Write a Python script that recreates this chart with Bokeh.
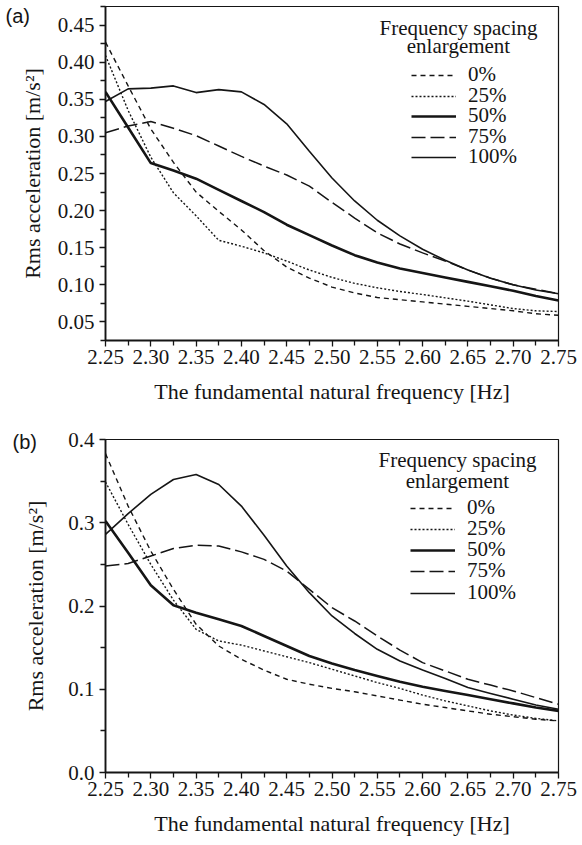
from bokeh.plotting import figure
from bokeh.models import FixedTicker, PrintfTickFormatter, Legend, LegendItem, Label
from bokeh.layouts import column
from bokeh.embed import file_html
from bokeh.resources import INLINE

# ---------------- data ----------------
FREQ = [2.25, 2.275, 2.30, 2.325, 2.35, 2.375, 2.40, 2.425, 2.45, 2.475, 2.50,
        2.525, 2.55, 2.575, 2.60, 2.625, 2.65, 2.675, 2.70, 2.725, 2.75]
SERIES = ["0%", "25%", "50%", "75%", "100%"]

# panel (a)
A_0 = [0.427, 0.368, 0.310, 0.265, 0.225, 0.199, 0.174, 0.146, 0.124, 0.109, 0.097,
       0.089, 0.083, 0.080, 0.077, 0.074, 0.071, 0.068, 0.065, 0.061, 0.059]
A_25 = [0.409, 0.335, 0.272, 0.224, 0.193, 0.160, 0.152, 0.143, 0.132, 0.120, 0.110,
        0.102, 0.096, 0.091, 0.087, 0.0825, 0.078, 0.073, 0.068, 0.065, 0.064]
A_50 = [0.360, 0.312, 0.264, 0.254, 0.243, 0.228, 0.213, 0.198, 0.181, 0.167, 0.153,
        0.140, 0.130, 0.122, 0.116, 0.110, 0.104, 0.098, 0.092, 0.085, 0.079]
A_75 = [0.305, 0.314, 0.320, 0.311, 0.301, 0.287, 0.273, 0.260, 0.248, 0.233, 0.211,
        0.190, 0.170, 0.155, 0.143, 0.132, 0.120, 0.109, 0.100, 0.094, 0.088]
A_100 = [0.347, 0.364, 0.365, 0.368, 0.359, 0.363, 0.360, 0.343, 0.317, 0.280, 0.244,
         0.213, 0.187, 0.166, 0.148, 0.133, 0.120, 0.109, 0.100, 0.093, 0.088]

# panel (b)
B_0 = [0.383, 0.320, 0.266, 0.220, 0.178, 0.152, 0.136, 0.123, 0.112, 0.106, 0.101,
       0.097, 0.092, 0.087, 0.082, 0.078, 0.074, 0.070, 0.067, 0.064, 0.062]
B_25 = [0.349, 0.298, 0.250, 0.207, 0.172, 0.158, 0.153, 0.146, 0.139, 0.132, 0.124,
        0.116, 0.108, 0.101, 0.093, 0.086, 0.080, 0.074, 0.069, 0.065, 0.062]
B_50 = [0.302, 0.264, 0.225, 0.201, 0.192, 0.184, 0.176, 0.164, 0.152, 0.140, 0.131,
        0.123, 0.116, 0.109, 0.103, 0.098, 0.093, 0.088, 0.083, 0.078, 0.074]
B_75 = [0.248, 0.251, 0.260, 0.269, 0.273, 0.272, 0.265, 0.256, 0.242, 0.220, 0.198,
        0.182, 0.164, 0.147, 0.132, 0.122, 0.112, 0.105, 0.098, 0.090, 0.082]
B_100 = [0.286, 0.311, 0.334, 0.352, 0.358, 0.346, 0.320, 0.285, 0.248, 0.216, 0.188,
         0.167, 0.148, 0.134, 0.123, 0.113, 0.102, 0.095, 0.088, 0.081, 0.076]

X_TICKS = [2.25, 2.30, 2.35, 2.40, 2.45, 2.50, 2.55, 2.60, 2.65, 2.70, 2.75]
X_MINOR = [2.275, 2.325, 2.375, 2.425, 2.475, 2.525, 2.575, 2.625, 2.675, 2.725]
A_Y_TICKS = [0.05, 0.10, 0.15, 0.20, 0.25, 0.30, 0.35, 0.40, 0.45]
A_Y_MINOR = [0.025, 0.075, 0.125, 0.175, 0.225, 0.275, 0.325, 0.375, 0.425, 0.475]
B_Y_TICKS = [0.0, 0.1, 0.2, 0.3, 0.4]
B_Y_MINOR = [0.05, 0.15, 0.25, 0.35]

LEGEND_TITLE = ["Frequency spacing", "enlargement"]
X_LABEL = "The fundamental natural frequency [Hz]"
Y_LABEL = "Rms acceleration [m/s\u00b2]"

# ---------------- styles ----------------
INK = "#151515"
SERIF = "Liberation Serif"
STYLES = {
    "0%": dict(line_dash="5 4", line_width=1.4),
    "25%": dict(line_dash="2 2", line_width=1.4),
    "50%": dict(line_dash="solid", line_width=2.6),
    "75%": dict(line_dash="14 5", line_width=1.5),
    "100%": dict(line_dash="solid", line_width=1.6),
}


def make_panel(tag, series_vals, y_range, yticks, yminor, fmt, height,
               b_left, b_right, b_top, b_bottom, ylab_standoff,
               leg_x, leg_rows, title_x, title_y1, title_y2, tag_standoff):
    p = figure(width=582, height=height, x_range=(2.25, 2.75), y_range=y_range,
               output_backend="svg", toolbar_location=None,
               min_border_left=b_left, min_border_right=b_right,
               min_border_top=b_top, min_border_bottom=b_bottom)
    p.xgrid.visible = False
    p.ygrid.visible = False
    p.outline_line_color = INK
    p.outline_line_width = 1.2
    p.background_fill_color = "white"
    p.border_fill_color = "white"

    # panel tag "(a)" / "(b)" as the figure title, pulled to the top-left corner
    p.title.text = tag
    p.title.align = "left"
    p.title.offset = -(b_left - 5)
    p.title.standoff = -tag_standoff
    p.title.text_font = "Liberation Sans"
    p.title.text_font_size = "20px"
    p.title.text_font_style = "normal"
    p.title.text_color = INK

    p.xaxis.ticker = FixedTicker(ticks=X_TICKS, minor_ticks=X_MINOR)
    p.xaxis.formatter = PrintfTickFormatter(format="%.2f")
    p.yaxis.ticker = FixedTicker(ticks=yticks, minor_ticks=yminor)
    p.yaxis.formatter = PrintfTickFormatter(format=fmt)
    for ax in (p.xaxis, p.yaxis):
        ax.axis_line_color = INK
        ax.axis_line_width = 1.8
        ax.major_tick_line_color = INK
        ax.minor_tick_line_color = INK
        ax.major_tick_line_width = 1.3
        ax.minor_tick_line_width = 1.3
        ax.major_tick_in = 0
        ax.major_tick_out = 6
        ax.minor_tick_in = 0
        ax.minor_tick_out = 5
        ax.major_label_text_font = SERIF
        ax.major_label_text_font_size = "21px"
        ax.major_label_text_font_style = "normal"
        ax.major_label_text_color = INK
        ax.axis_label_text_font = SERIF
        ax.axis_label_text_font_size = "22px"
        ax.axis_label_text_font_style = "normal"
        ax.axis_label_text_color = INK
    p.xaxis.axis_label = X_LABEL
    p.yaxis.axis_label = Y_LABEL
    p.xaxis.major_label_standoff = 3
    p.xaxis.axis_label_standoff = 12
    p.yaxis.major_label_standoff = 5
    p.yaxis.axis_label_standoff = ylab_standoff

    for name, vals, row_y in zip(SERIES, series_vals, leg_rows):
        r = p.line(FREQ, vals, line_color=INK, **STYLES[name])
        leg = Legend(items=[LegendItem(label=name, renderers=[r])],
                     location=(leg_x, row_y), orientation="vertical",
                     padding=0, margin=0, spacing=0,
                     glyph_width=45, glyph_height=18, label_height=18,
                     label_standoff=12,
                     label_text_font=SERIF, label_text_font_size="21px",
                     label_text_font_style="normal",
                     label_text_color=INK,
                     border_line_alpha=0, background_fill_alpha=0)
        p.add_layout(leg)

    for txt, ty in ((LEGEND_TITLE[0], title_y1), (LEGEND_TITLE[1], title_y2)):
        p.add_layout(Label(x=title_x, y=ty, x_units="screen", y_units="screen",
                           text=txt, text_font=SERIF, text_font_size="21px",
                           text_color=INK, text_align="center",
                           text_baseline="middle"))
    return p


pa = make_panel("(a)", [A_0, A_25, A_50, A_75, A_100], (0.025, 0.475),
                A_Y_TICKS, A_Y_MINOR, "%.2f", 422,
                105, 18, 6, 82, 10,
                306, [253, 232, 212, 191, 171], 353, 313, 295, 41)
pb = make_panel("(b)", [B_0, B_25, B_50, B_75, B_100], (0.0, 0.4),
                B_Y_TICKS, B_Y_MINOR, "%.1f", 423,
                98, 24, 17, 73, 17,
                305, [252, 231, 210, 189, 167], 352, 313, 292, 27)

layout = column(pa, pb, spacing=0)
open("out.html", "w").write(file_html(layout, INLINE))
